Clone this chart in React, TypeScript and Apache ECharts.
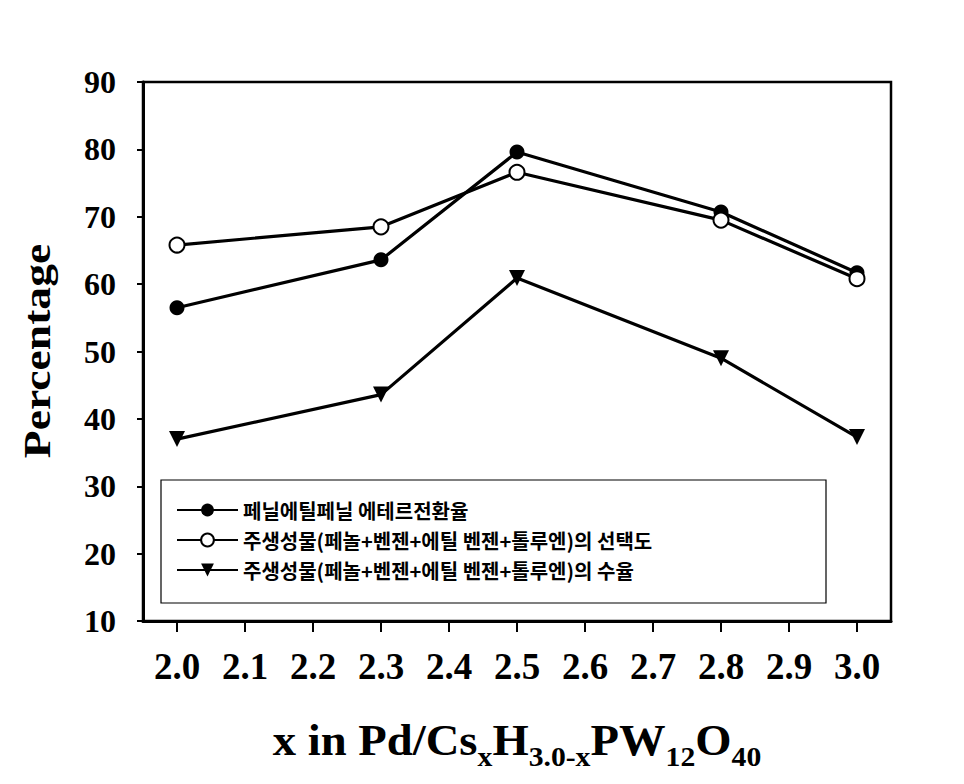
import React, { useEffect, useRef } from "react";
import * as echarts from "echarts";

const xValues = [2.0, 2.3, 2.5, 2.8, 3.0];
const conversion = [56.5, 63.6, 79.6, 70.7, 61.7];
const selectivity = [65.8, 68.5, 76.6, 69.5, 60.8];
const yieldVals = [37.0, 43.6, 60.9, 49.0, 37.3];
const xTicks = [2.0, 2.1, 2.2, 2.3, 2.4, 2.5, 2.6, 2.7, 2.8, 2.9, 3.0];
const seriesNames = [
  "페닐에틸페닐 에테르전환율",
  "주생성물(페놀+벤젠+에틸 벤젠+톨루엔)의 선택도",
  "주생성물(페놀+벤젠+에틸 벤젠+톨루엔)의 수율",
];

const SERIF = "'Liberation Serif', 'Times New Roman', serif";
const KR = "'Noto Sans CJK KR', sans-serif";

export default function App() {
  const ref = useRef<HTMLDivElement>(null);
  useEffect(() => {
    if (!ref.current) return;
    const chart = echarts.init(ref.current, undefined, { renderer: "svg" });
    const pair = (ys: number[]) => xValues.map((x, i) => [x, ys[i]]);
    const lineStyle = { color: "#000", width: 3.2 };
    chart.setOption({
      animation: false,
      backgroundColor: "#fff",
      grid: {
        left: 143,
        right: 73,
        top: 82,
        bottom: 163,
        show: true,
        borderColor: "#000",
        borderWidth: 2.5,
        containLabel: false,
      },
      xAxis: {
        type: "value",
        min: 1.95,
        max: 3.05,
        splitLine: { show: false },
        axisLine: { show: true, onZero: false, lineStyle: { color: "#000", width: 3 } },
        axisTick: {
          show: true,
          inside: false,
          length: 11,
          lineStyle: { color: "#000", width: 2 },
          customValues: xTicks,
        },
        axisLabel: {
          margin: 27,
          fontFamily: SERIF,
          fontWeight: "bold",
          fontSize: 37,
          color: "#000",
          customValues: xTicks,
          formatter: (v: number) => v.toFixed(1),
        },
      },
      yAxis: {
        type: "value",
        min: 10,
        max: 90,
        interval: 10,
        splitLine: { show: false },
        axisLine: { show: true, lineStyle: { color: "#000", width: 3 } },
        axisTick: { show: true, length: 6, lineStyle: { color: "#000", width: 2 } },
        axisLabel: {
          margin: 27,
          fontFamily: SERIF,
          fontWeight: "bold",
          fontSize: 32,
          color: "#000",
        },
      },
      legend: {
        orient: "vertical",
        left: 176,
        top: 500,
        itemWidth: 61,
        itemHeight: 16,
        itemGap: 10,
        padding: 0,
        textStyle: { fontFamily: KR, fontWeight: "bold", fontSize: 20, color: "#000" },
        data: seriesNames,
      },
      graphic: [
        {
          type: "rect",
          shape: { x: 161, y: 480, width: 665, height: 123 },
          style: { fill: "none", stroke: "#000", lineWidth: 1.2 },
          z: 1,
        },
        {
          type: "text",
          x: 37,
          y: 351,
          rotation: Math.PI / 2,
          scaleX: 1.2,
          style: {
            text: "Percentage",
            fontFamily: SERIF,
            fontWeight: "bold",
            fontSize: 38,
            fill: "#000",
            align: "center",
            verticalAlign: "middle",
          },
        },
        {
          type: "text",
          x: 517,
          y: 770,
          scaleX: 1.06,
          style: {
            text: "{m|x in Pd/Cs}{s|x}{m|H}{s|3.0-x}{m|PW}{s|12}{m|O}{s|40}",
            align: "center",
            verticalAlign: "bottom",
            fill: "#000",
            rich: {
              m: {
                fontFamily: SERIF,
                fontWeight: "bold",
                fontSize: 44,
                verticalAlign: "bottom",
                padding: [0, 0, 8, 0],
              },
              s: {
                fontFamily: SERIF,
                fontWeight: "bold",
                fontSize: 28,
                verticalAlign: "bottom",
              },
            },
          },
        },
      ],
      series: [
        {
          name: seriesNames[0],
          type: "line",
          data: pair(conversion),
          symbol: "circle",
          symbolSize: 15,
          lineStyle,
          itemStyle: { color: "#000" },
        },
        {
          name: seriesNames[1],
          type: "line",
          data: pair(selectivity),
          symbol: "circle",
          symbolSize: 15,
          lineStyle,
          itemStyle: { color: "#fff", borderColor: "#000", borderWidth: 2 },
        },
        {
          name: seriesNames[2],
          type: "line",
          data: pair(yieldVals),
          symbol: "triangle",
          symbolRotate: 180,
          symbolSize: 16,
          lineStyle,
          itemStyle: { color: "#000" },
        },
      ],
    });
    return () => chart.dispose();
  }, []);
  return (
    <div
      ref={ref}
      style={{ position: "fixed", left: 0, top: 0, width: 964, height: 784, background: "#fff" }}
    />
  );
}
